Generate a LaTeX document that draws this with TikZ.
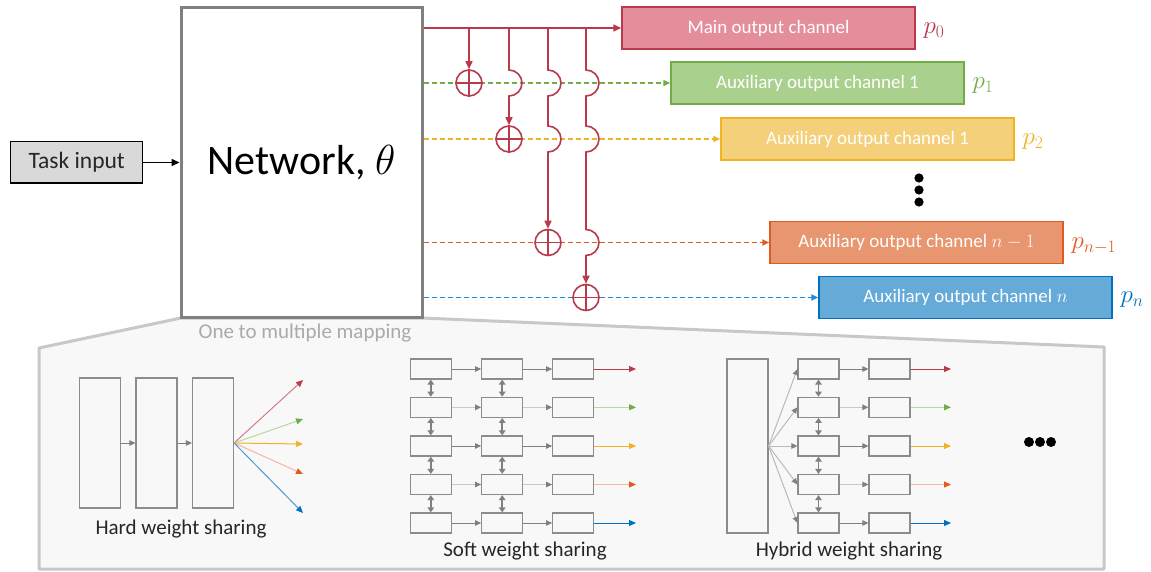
\RequirePackage{fix-cm}
\documentclass[tikz,border=0pt]{standalone}
\usepackage{fontspec}
\setmainfont{Carlito}
\usetikzlibrary{arrows.meta,calc}
\definecolor{cred}{HTML}{B83A4B}
\definecolor{fred}{HTML}{E48E9C}
\definecolor{lred}{HTML}{D47A88}
\definecolor{cgreen}{HTML}{70AD47}
\definecolor{fgreen}{HTML}{AAD08E}
\definecolor{lgreen}{HTML}{B5D99C}
\definecolor{cyellow}{HTML}{EFB323}
\definecolor{fyellow}{HTML}{F4D07A}
\definecolor{corange}{HTML}{E05A22}
\definecolor{forange}{HTML}{E8966F}
\definecolor{lorange}{HTML}{F2B8A2}
\definecolor{cblue}{HTML}{0070C0}
\definecolor{dblue}{HTML}{1A88E6}
\definecolor{fblue}{HTML}{66AAD8}
\definecolor{lgray}{HTML}{8C8C8C}
\definecolor{mgray}{HTML}{808080}
\definecolor{pgray}{HTML}{C8C8C8}
\definecolor{panel}{HTML}{F8F8F8}
\definecolor{txt}{HTML}{262626}
\tikzset{
  outbox/.style={draw=#1, line width=1.5pt, minimum width=293pt, minimum height=42pt, inner sep=0pt, text=white, font=\fontsize{19}{19}\selectfont},
  plabel/.style={anchor=west, text=#1, font=\fontsize{25}{25}\selectfont},
  redline/.style={draw=cred, line width=1.6pt},
  redarr/.style={redline, -{Triangle[length=8pt,width=7pt]}},
  dasharr/.style={draw=#1, line width=1.6pt, dash pattern=on 5pt off 3pt, -{Triangle[length=7pt,width=6pt]}},
  oplus/.style={circle, draw=cred, line width=1.6pt, fill=white, minimum size=26pt, inner sep=0pt},
  lyr/.style={draw=lgray, line width=1.2pt, minimum width=41pt, minimum height=20pt, inner sep=0pt},
  tall/.style={draw=lgray, line width=1.2pt, minimum width=41pt, inner sep=0pt},
  garr/.style={draw=#1, line width=1pt, -{Triangle[length=6pt,width=5.5pt,color=mgray]}},
  darr/.style={draw=mgray, line width=1.8pt, {Triangle[length=5pt,width=6.5pt]}-{Triangle[length=5pt,width=6.5pt]}},
  oarr/.style n args={2}{draw=#1, line width=1pt, -{Triangle[length=7pt,width=6pt,color=#2]}},
  caption/.style={text=txt, font=\fontsize{21}{21}\selectfont},
}
\begin{document}
\begin{tikzpicture}[x=1pt,y=-1pt]
\useasboundingbox (0,0) rectangle (1151,572);
\fill[white] (0,0) rectangle (1151,572);

% ---------- lower panel ----------
\draw[draw=pgray, fill=panel, line width=3pt, line join=round]
  (39,348) -- (181,318) -- (422,318) -- (1104,347) -- (1104,569) -- (39,569) -- cycle;
\node[text=pgray!85!black, font=\fontsize{21}{21}\selectfont] (mapping) at (305,333) {One to multiple mapping};

% ---------- top part ----------
\node[draw=black, fill=black!15, line width=1.5pt, minimum width=132pt, minimum height=41.5pt, inner sep=0pt,
      font=\fontsize{23.5}{23.5}\selectfont, text=txt] (task) at (76.7,162.5) {Task input};
\node[draw=mgray, fill=white, line width=3pt, minimum width=241pt, minimum height=310pt, inner sep=0pt,
      font=\fontsize{42}{42}\selectfont] (net) at (301.5,162.5) {Network, $\theta$};
\draw[line width=1.5pt, -{Triangle[length=8pt,width=7pt]}] (task) -- (net);

\node[outbox=cred, fill=fred] (main) at (768.5,28) {Main output channel};
\node[outbox=cgreen, fill=fgreen] (aux1) at (817.5,83) {Auxiliary output channel 1};
\node[outbox=cyellow, fill=fyellow] (aux2) at (867.5,139) {Auxiliary output channel 1};
\node[outbox=corange, fill=forange] (auxn1) at (916.5,242.5) {Auxiliary output channel $n-1$};
\node[outbox=cblue, fill=fblue] (auxn) at (965.5,297.5) {Auxiliary output channel $n$};

\node[plabel=cred] (p0) at (920,31) {$p_0$};
\node[plabel=cgreen] (p1) at (969,86) {$p_1$};
\node[plabel=cyellow] (p2) at (1019,142) {$p_2$};
\node[plabel=corange] (pn1) at (1068,246) {$p_{n-1}$};
\node[plabel=cblue] (pn) at (1117,300) {$p_n$};

\foreach \yy in {178,190,202} \fill (919,\yy) circle[radius=4.6];

% dashed auxiliary connections
\draw[dasharr=cgreen] (net.east |- aux1) -- (aux1.west);
\draw[dasharr=cyellow] (net.east |- aux2) -- (aux2.west);
\draw[dasharr=corange] (net.east |- auxn1) -- (auxn1.west);
\draw[dasharr=dblue] (net.east |- auxn) -- (auxn.west);

% main connection
\draw[redarr] (net.east |- main) -- (main.west);

\coordinate (t1) at (469,28);
\coordinate (t2) at (509,28);
\coordinate (t3) at (548,28);
\coordinate (t4) at (586,28);

\node[oplus] (c1) at (469,83) {};
\node[oplus] (c2) at (509,139) {};
\node[oplus] (c3) at (548,242.5) {};
\node[oplus] (c4) at (586,297.5) {};
\foreach \c in {c1,c2,c3,c4}{
  \draw[redline] (\c.north) -- (\c.south) (\c.west) -- (\c.east);
}

\draw[redarr] (t1) -- (c1.north);
\draw[redarr] (t2) -- (509,70) arc[start angle=-90,end angle=90,radius=13] -- (c2.north);
\draw[redarr] (t3) -- (548,70) arc[start angle=-90,end angle=90,radius=13]
   -- (548,126) arc[start angle=-90,end angle=90,radius=13] -- (c3.north);
\draw[redarr] (t4) -- (586,70) arc[start angle=-90,end angle=90,radius=13]
   -- (586,126) arc[start angle=-90,end angle=90,radius=13]
   -- (586,229.5) arc[start angle=-90,end angle=90,radius=13] -- (c4.north);

% ---------- hard weight sharing ----------
\node[tall, minimum height=130pt] (h1) at (100,443) {};
\node[tall, minimum height=130pt] (h2) at (156.5,443) {};
\node[tall, minimum height=130pt] (h3) at (213,443) {};
\draw[garr=mgray] (h1) -- (h2);
\draw[garr=mgray] (h2) -- (h3);
\coordinate (ho1) at (303,380);
\coordinate (ho2) at (303,419);
\coordinate (ho3) at (303,444);
\coordinate (ho4) at (303,474);
\coordinate (ho5) at (303,513);
\draw[oarr={lred}{cred}] (h3.east) -- (ho1);
\draw[oarr={lgreen}{cgreen}] (h3.east) -- (ho2);
\draw[oarr={cyellow}{cyellow}] (h3.east) -- (ho3);
\draw[oarr={lorange}{corange}] (h3.east) -- (ho4);
\draw[oarr={cblue!70}{cblue}] (h3.east) -- (ho5);
\node[caption] (hcap) at (181,529) {Hard weight sharing};

% ---------- soft weight sharing ----------
\foreach \r/\y in {1/369,2/407.3,3/446,4/484.5,5/523}{
  \foreach \c/\x in {1/430.8,2/502.2,3/573.2}{
    \node[lyr] (s\c\r) at (\x,\y) {};
  }
  \coordinate (so\r) at (636,\y);
}
\foreach \r/\g/\lc/\tc in {1/mgray/cred/cred,2/pgray/lgreen/cgreen,3/mgray/cyellow/cyellow,4/pgray/lorange/corange,5/mgray/cblue/cblue}{
  \draw[garr=\g] (s1\r) -- (s2\r);
  \draw[garr=\g] (s2\r) -- (s3\r);
  \draw[oarr={\lc}{\tc}] (s3\r.east) -- (so\r);
}
\foreach \r [evaluate=\r as \n using int(\r+1)] in {1,...,4}{
  \draw[darr] (s1\r) -- (s1\n);
  \draw[darr] (s2\r) -- (s2\n);
}
\node[caption] (scap) at (525,551) {Soft weight sharing};

% ---------- hybrid weight sharing ----------
\node[tall, minimum height=174pt] (y0) at (747.5,446) {};
\foreach \r/\y in {1/369,2/407.3,3/446,4/484.5,5/523}{
  \node[lyr] (y2\r) at (818.5,\y) {};
  \node[lyr] (y3\r) at (889.5,\y) {};
  \coordinate (yo\r) at (951,\y);
}
\foreach \r/\g/\lc/\tc in {1/mgray/cred/cred,2/pgray/lgreen/cgreen,3/mgray/cyellow/cyellow,4/pgray/lorange/corange,5/mgray/cblue/cblue}{
  \draw[garr=pgray!80!mgray] (y0.east) -- (y2\r.west);
  \draw[garr=\g] (y2\r) -- (y3\r);
  \draw[oarr={\lc}{\tc}] (y3\r.east) -- (yo\r);
}
\foreach \r [evaluate=\r as \n using int(\r+1)] in {1,...,4}{
  \draw[darr] (y2\r) -- (y2\n);
}
\node[caption] (ycap) at (849,551) {Hybrid weight sharing};

\foreach \xx in {1029,1040,1051} \fill (\xx,442) circle[radius=5];
\end{tikzpicture}
\end{document}
